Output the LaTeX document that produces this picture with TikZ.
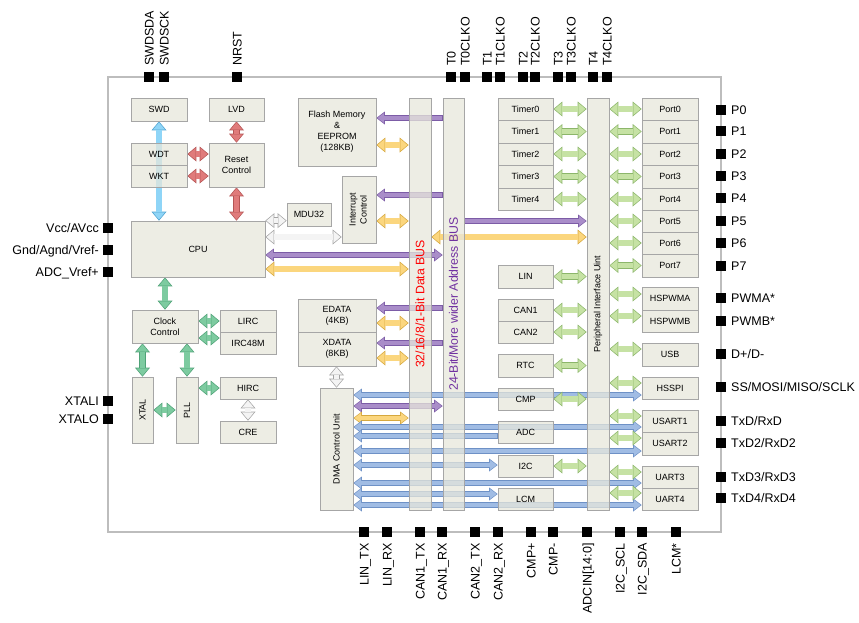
\documentclass[tikz,border=0pt]{standalone}
\usepackage{fontspec}
\setmainfont{Liberation Sans}
\usetikzlibrary{arrows.meta}
\pgfdeclarelayer{bg}
\pgfsetlayers{bg,main}

\definecolor{boxF}{HTML}{E7E7DB}
\definecolor{boxD}{HTML}{A6A6A6}
\definecolor{chipD}{HTML}{BDBDBD}
\definecolor{busR}{HTML}{FF0000}
\definecolor{busP}{HTML}{7030A0}
\definecolor{skF}{HTML}{8FD5F7}
\definecolor{skD}{HTML}{4FA3D1}
\definecolor{rdF}{HTML}{E07B7B}
\definecolor{rdD}{HTML}{B55555}
\definecolor{ckF}{HTML}{7DCBA0}
\definecolor{ckD}{HTML}{4FA277}
\definecolor{pgF}{HTML}{C6E2A4}
\definecolor{pgD}{HTML}{8CB66A}
\definecolor{puF}{HTML}{A98DC9}
\definecolor{puD}{HTML}{7C5CA6}
\definecolor{yeF}{HTML}{FBD67E}
\definecolor{yeD}{HTML}{D6A83E}
\definecolor{gyF}{HTML}{F4F4F4}
\definecolor{gyD}{HTML}{A3A3A3}
\definecolor{dmF}{HTML}{A0BCE4}
\definecolor{dmD}{HTML}{6E91C6}

\tikzset{
  blk/.style = { draw = boxD, line width = 0.7pt, fill = boxF,
                 fill opacity = 0.75, text opacity = 1, inner sep = 1pt,
                 align = center, font = \fontsize{9}{11}\selectfont },
  pad/.style = { fill = black, minimum size = 9.5pt, inner sep = 0pt },
  pinlbl/.style = { inner sep = 0pt, text height = 9pt, text depth = 0pt,
                    font = \fontsize{12.5}{14}\selectfont },
  fatout/.tip = {Triangle[length=9pt,width=15pt,line width=0pt]},
  fatin/.tip = {Triangle[length=7.2pt,width=12pt,line width=0pt]},
  slimout/.tip = {Triangle[length=8.5pt,width=13pt,line width=0pt]},
  slimin/.tip = {Triangle[length=6.65pt,width=10.2pt,line width=0pt]},
  dbl/.style = { draw = #1F, line width = 5.2pt, arrows = {fatin-fatin},
                 shorten <= 1.1pt, shorten >= 1.1pt,
                 preaction = {draw = #1D, line width = 6.6pt, arrows = {fatout-fatout},
                              shorten <= 0pt, shorten >= 0pt} },
  sdbl/.style = { draw = #1F, line width = 3.8pt, arrows = {slimin-slimin},
                  shorten <= 1.1pt, shorten >= 1.1pt,
                  preaction = {draw = #1D, line width = 5.2pt, arrows = {slimout-slimout},
                               shorten <= 0pt, shorten >= 0pt} },
  pto/.style = { draw = #1F, line width = 3.8pt, arrows = {-slimin},
                 shorten <= 1.1pt, shorten >= 1.1pt,
                 preaction = {draw = #1D, line width = 5.2pt, arrows = {-slimout},
                              shorten <= 0pt, shorten >= 0pt} } }

\newcommand\blk[7][]{\node[blk, minimum width = {(#5-#3)*1pt},
  minimum height = {(#6-#4)*1pt}, #1] (#2) at ({(#3+#5)/2},{(#4+#6)/2}) {#7};}
\newcommand\pinN[3]{\node[pad] (#1) at (#2,77) {};
  \node[pinlbl, rotate = 90, anchor = west] (#1l) at (#2,66) {#3};}
\newcommand\pinS[3]{\node[pad] (#1) at (#2,532) {};
  \node[pinlbl, rotate = 90, anchor = east] (#1l) at (#2,543) {#3};}
\newcommand\pinE[3]{\node[pad] (#1) at (721,#2) {};
  \node[pinlbl, anchor = west] (#1l) at (731,#2) {#3};}
\newcommand\pinW[3]{\node[pad] (#1) at (108,#2) {};
  \node[pinlbl, anchor = east] (#1l) at (99,#2) {#3};}

\begin{document}
\begin{tikzpicture}[x=1pt,y=-1pt]
  \useasboundingbox (0,0) rectangle (859,622);

  \node[draw = chipD, line width = 1.2pt, minimum width = 613pt,
        minimum height = 455pt] (chip) at (414.5,304.5) {};

  \blk{swd}{131}{98}{187}{121}{SWD}
  \blk{lvd}{209}{98}{264}{121}{LVD}
  \blk{wdt}{131}{143}{187}{165}{WDT}
  \blk{wkt}{131}{165}{187}{187}{WKT}
  \blk{rst}{209}{143}{264}{187}{Reset\\Control}
  \blk{flash}{298}{98}{376}{166}{Flash Memory\\\&\\EEPROM\\(128KB)}
  \blk{intc}{342}{176}{376}{243}{\rotatebox{90}{\begin{tabular}{@{}c@{}}Interrupt\\Control\end{tabular}}}
  \blk{mdu}{287}{203}{331}{226}{MDU32}
  \blk{cpu}{131}{221}{265}{277}{CPU}

  \blk{clk}{132}{310}{198}{343}{Clock\\Control}
  \blk{lirc}{220}{310}{276}{332}{LIRC}
  \blk{irc}{220}{332}{276}{354}{IRC48M}
  \blk{xtal}{132}{377}{153}{443}{\rotatebox{90}{XTAL}}
  \blk{pll}{176}{377}{198}{443}{\rotatebox{90}{PLL}}
  \blk{hirc}{220}{377}{276}{399}{HIRC}
  \blk{cre}{220}{421}{276}{443}{CRE}

  \blk{edata}{298}{299}{376}{332}{EDATA\\(4KB)}
  \blk{xdata}{298}{332}{376}{366}{XDATA\\(8KB)}
  \blk{dma}{320}{388}{353}{510}{\rotatebox{90}{DMA Control Unit}}

  \blk[text = busR, font = \fontsize{12.3}{14}\selectfont]{dbus}{409}{98}{431}{510}{\rotatebox{90}{32/16/8/1-Bit Data BUS}}
  \blk[text = busP, font = \fontsize{12.3}{14}\selectfont]{abus}{443}{98}{464}{510}{\rotatebox{90}{24-Bit/More wider Address BUS}}
  \blk{piu}{587}{98}{609}{510}{\rotatebox{90}{Peripheral Interface Uint}}

  \blk{tm0}{498}{98}{553}{120}{Timer0}
  \blk{tm1}{498}{120}{553}{143}{Timer1}
  \blk{tm2}{498}{143}{553}{165}{Timer2}
  \blk{tm3}{498}{165}{553}{188}{Timer3}
  \blk{tm4}{498}{188}{553}{210}{Timer4}
  \blk{lin}{498}{265}{553}{288}{LIN}
  \blk{can1}{498}{299}{553}{321}{CAN1}
  \blk{can2}{498}{321}{553}{343}{CAN2}
  \blk{rtc}{498}{354}{553}{377}{RTC}
  \blk{cmp}{498}{388}{553}{410}{CMP}
  \blk{adc}{498}{421}{553}{443}{ADC}
  \blk{iic}{498}{455}{553}{477}{I2C}
  \blk{lcm}{498}{488}{553}{510}{LCM}

  \blk{pt0}{642}{98}{698}{120}{Port0}
  \blk{pt1}{642}{120}{698}{143}{Port1}
  \blk{pt2}{642}{143}{698}{165}{Port2}
  \blk{pt3}{642}{165}{698}{188}{Port3}
  \blk{pt4}{642}{188}{698}{210}{Port4}
  \blk{pt5}{642}{210}{698}{232}{Port5}
  \blk{pt6}{642}{232}{698}{254}{Port6}
  \blk{pt7}{642}{254}{698}{277}{Port7}
  \blk{pwma}{642}{287}{698}{310}{HSPWMA}
  \blk{pwmb}{642}{310}{698}{332}{HSPWMB}
  \blk{usb}{642}{343}{698}{366}{USB}
  \blk{spi}{642}{377}{698}{399}{HSSPI}
  \blk{usart1}{642}{410}{698}{432}{USART1}
  \blk{usart2}{642}{432}{698}{455}{USART2}
  \blk{uart3}{642}{466}{698}{488}{UART3}
  \blk{uart4}{642}{488}{698}{510}{UART4}

  \pinN{swdsda}{149}{SWDSDA}
  \pinN{swdsck}{164}{SWDSCK}
  \pinN{nrst}{237}{NRST}
  \pinN{t0}{451}{T0}
  \pinN{t0clko}{465}{T0CLKO}
  \pinN{t1}{487}{T1}
  \pinN{t1clko}{500}{T1CLKO}
  \pinN{t2}{523}{T2}
  \pinN{t2clko}{535}{T2CLKO}
  \pinN{t3}{558}{T3}
  \pinN{t3clko}{571}{T3CLKO}
  \pinN{t4}{593}{T4}
  \pinN{t4clko}{607}{T4CLKO}

  \pinE{p0}{110}{P0}
  \pinE{p1}{131}{P1}
  \pinE{p2}{154}{P2}
  \pinE{p3}{176}{P3}
  \pinE{p4}{198}{P4}
  \pinE{p5}{221}{P5}
  \pinE{p6}{243}{P6}
  \pinE{p7}{266}{P7}
  \pinE{pwmapin}{298}{PWMA*}
  \pinE{pwmbpin}{321}{PWMB*}
  \pinE{dpm}{354}{D+/D-}
  \pinE{sspin}{387}{SS/MOSI/MISO/SCLK}
  \pinE{txd1}{421}{TxD/RxD}
  \pinE{txd2}{443}{TxD2/RxD2}
  \pinE{txd3}{477}{TxD3/RxD3}
  \pinE{txd4}{498}{TxD4/RxD4}

  \pinW{vcc}{228}{Vcc/AVcc}
  \pinW{gnd}{250}{Gnd/Agnd/Vref-}
  \pinW{vref}{272}{ADC\_Vref+}
  \pinW{xtali}{401}{XTALI}
  \pinW{xtalo}{419}{XTALO}

  \pinS{lintx}{364}{LIN\_TX}
  \pinS{linrx}{387}{LIN\_RX}
  \pinS{canatx}{420}{CAN1\_TX}
  \pinS{canarx}{442}{CAN1\_RX}
  \pinS{canbtx}{475}{CAN2\_TX}
  \pinS{canbrx}{498}{CAN2\_RX}
  \pinS{cmpp}{531}{CMP+}
  \pinS{cmpm}{553}{CMP-}
  \pinS{adcin}{587}{ADCIN[14:0]}
  \pinS{scl}{620}{I2C\_SCL}
  \pinS{sda}{642}{I2C\_SDA}
  \pinS{lcmpin}{676}{LCM*}

  \begin{pgfonlayer}{bg}
  \draw[dbl=sk] (swd.south) -- (swd.south |- cpu.north);
  \draw[dbl=rd] (lvd.south) -- (rst.north);
  \draw[dbl=rd] (wdt.east) -- (wdt.east -| rst.west);
  \draw[dbl=rd] (wkt.east) -- (wkt.east -| rst.west);
  \draw[dbl=rd] (rst.south) -- (rst.south |- cpu.north);

  \draw[dbl=ck] (clk.north |- cpu.south) -- (clk.north);
  \draw[dbl=ck] (lirc.west -| clk.east) -- (lirc.west);
  \draw[dbl=ck] (clk.east |- 0,338) -- (irc.west |- 0,338);
  \draw[dbl=ck] (xtal.north |- clk.south) -- (xtal.north);
  \draw[dbl=ck] (pll.north |- clk.south) -- (pll.north);
  \draw[dbl=ck] (xtal.east) -- (pll.west);
  \draw[dbl=ck] (hirc.west -| pll.east) -- (hirc.west);

  \draw[dbl=gy] (hirc.south) -- (cre.north);
  \draw[dbl=gy] (dma.north |- xdata.south) -- (dma.north);
  \draw[dbl=gy] (cpu.north east) -- (cpu.north east -| mdu.west);
  \draw[dbl=gy] (cpu.east |- 0,237) -- (intc.west |- 0,237);

  \draw[pto=pu] (abus.west |- 0,118) -- (flash.east |- 0,118);
  \draw[dbl=ye] (flash.east |- 0,145) -- (dbus.west |- 0,145);
  \draw[pto=pu] (abus.west |- 0,195) -- (intc.east |- 0,195);
  \draw[dbl=ye] (intc.east |- 0,221) -- (dbus.west |- 0,221);
  \draw[sdbl=pu] (cpu.east |- 0,255) -- (abus.west |- 0,255);
  \draw[dbl=ye] (cpu.east |- 0,269) -- (dbus.west |- 0,269);
  \draw[pto=pu] (abus.east |- 0,221) -- (piu.west |- 0,221);
  \draw[dbl=ye] (dbus.east |- 0,237) -- (piu.west |- 0,237);
  \draw[pto=pu] (abus.west |- 0,308) -- (edata.east |- 0,308);
  \draw[dbl=ye] (edata.east |- 0,323) -- (dbus.west |- 0,323);
  \draw[pto=pu] (abus.west |- 0,343) -- (xdata.east |- 0,343);
  \draw[dbl=ye] (xdata.east |- 0,358) -- (dbus.west |- 0,358);

  \draw[sdbl=dm] (dma.east |- 0,395) -- (spi.west |- 0,395);
  \draw[sdbl=pu] (dma.east |- 0,406) -- (abus.west |- 0,406);
  \draw[sdbl=ye] (dma.east |- 0,418) -- (dbus.west |- 0,418);
  \draw[sdbl=dm] (dma.east |- 0,427) -- (usart1.west |- 0,427);
  \draw[pto=dm] (adc.west |- 0,436) -- (dma.east |- 0,436);
  \draw[sdbl=dm] (dma.east |- 0,451) -- (usart2.west |- 0,451);
  \draw[sdbl=dm] (dma.east |- 0,465) -- (iic.west |- 0,465);
  \draw[sdbl=dm] (dma.east |- 0,483) -- (uart3.west |- 0,483);
  \draw[sdbl=dm] (dma.east |- 0,494) -- (lcm.west |- 0,494);
  \draw[sdbl=dm] (dma.east |- 0,505) -- (uart4.west |- 0,505);

  \draw[dbl=pg] (tm0.east) -- (tm0.east -| piu.west);
  \draw[dbl=pg] (tm1.east) -- (tm1.east -| piu.west);
  \draw[dbl=pg] (tm2.east) -- (tm2.east -| piu.west);
  \draw[dbl=pg] (tm3.east) -- (tm3.east -| piu.west);
  \draw[dbl=pg] (tm4.east) -- (tm4.east -| piu.west);
  \draw[dbl=pg] (lin.east) -- (lin.east -| piu.west);
  \draw[dbl=pg] (can1.east) -- (can1.east -| piu.west);
  \draw[dbl=pg] (can2.east) -- (can2.east -| piu.west);
  \draw[dbl=pg] (rtc.east) -- (rtc.east -| piu.west);
  \draw[dbl=pg] (cmp.east) -- (cmp.east -| piu.west);
  \draw[dbl=pg] (iic.east) -- (iic.east -| piu.west);

  \draw[dbl=pg] (pt0.west -| piu.east) -- (pt0.west);
  \draw[dbl=pg] (pt1.west -| piu.east) -- (pt1.west);
  \draw[dbl=pg] (pt2.west -| piu.east) -- (pt2.west);
  \draw[dbl=pg] (pt3.west -| piu.east) -- (pt3.west);
  \draw[dbl=pg] (pt4.west -| piu.east) -- (pt4.west);
  \draw[dbl=pg] (pt5.west -| piu.east) -- (pt5.west);
  \draw[dbl=pg] (pt6.west -| piu.east) -- (pt6.west);
  \draw[dbl=pg] (pt7.west -| piu.east) -- (pt7.west);
  \draw[dbl=pg] (piu.east |- 0,294) -- (pwma.west |- 0,294);
  \draw[dbl=pg] (piu.east |- 0,316) -- (pwmb.west |- 0,316);
  \draw[dbl=pg] (piu.east |- 0,349) -- (usb.west |- 0,349);
  \draw[dbl=pg] (piu.east |- 0,383) -- (spi.west |- 0,383);
  \draw[dbl=pg] (piu.east |- 0,416) -- (usart1.west |- 0,416);
  \draw[dbl=pg] (piu.east |- 0,438) -- (usart2.west |- 0,438);
  \draw[dbl=pg] (piu.east |- 0,472) -- (uart3.west |- 0,472);
  \draw[dbl=pg] (piu.east |- 0,493) -- (uart4.west |- 0,493);
  \end{pgfonlayer}
\end{tikzpicture}
\end{document}
